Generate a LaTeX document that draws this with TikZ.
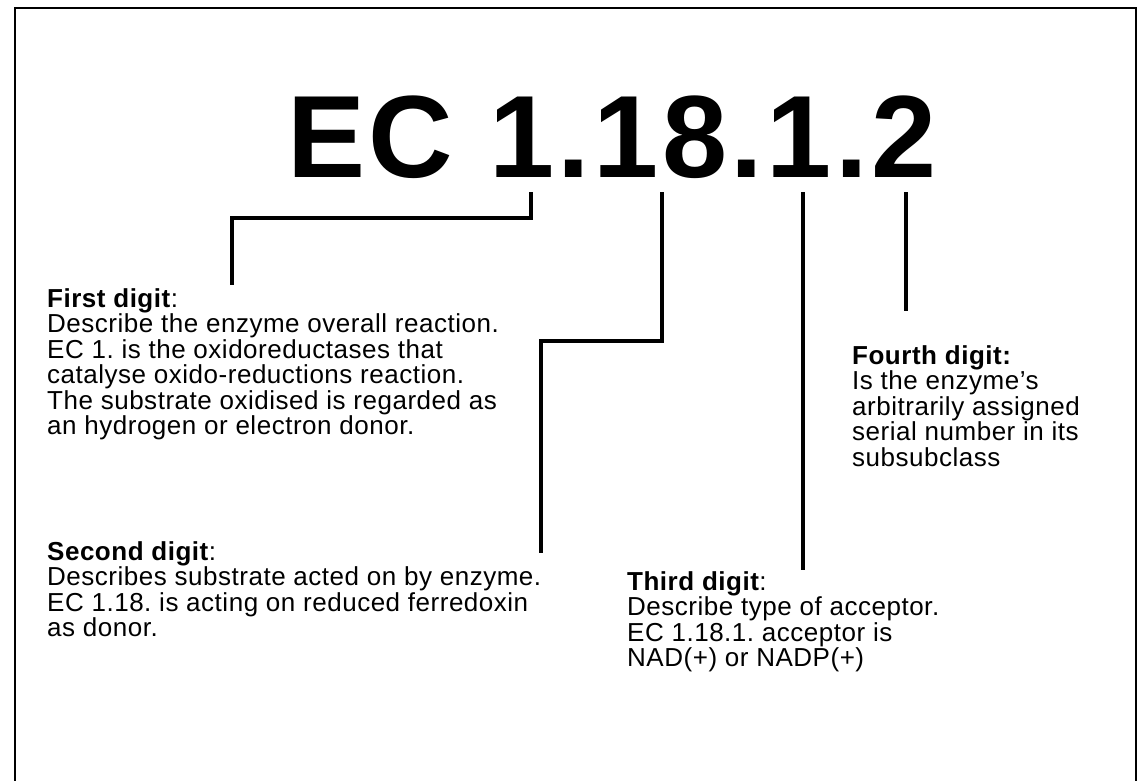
\documentclass[tikz,border=0pt]{standalone}
\usepackage{fontspec}
\setmainfont{Liberation Sans}
\newfontfamily\descfont[LetterSpace=2]{Liberation Sans}
\newfontfamily\titlefont[LetterSpace=3]{Liberation Sans}
\frenchspacing
\begin{document}
\begin{tikzpicture}[x=1pt,y=-1pt,
  conn/.style={line width=4pt},
  frame/.style={line width=2pt},
  desc/.style={anchor=north west,inner sep=0pt,align=left,font=\descfont\fontsize{26}{25.5}\selectfont},
  title/.style={anchor=base west,inner sep=0pt,font=\titlefont\bfseries\fontsize{117}{117}\selectfont}]
\useasboundingbox (0,0) rectangle (1146,781);
\draw[frame] (15,781) -- (15,8) -- (1136,8) -- (1136,781);
\node[title] (ec) at (287,178) {EC 1.18.1.2};
\coordinate (a1) at (531,192);
\coordinate (a2) at (662,192);
\coordinate (a3) at (803,192);
\coordinate (a4) at (906,192);
\node[desc] (d1) at (47,288) {\textbf{First digit}:\\Describe the enzyme overall reaction.\\EC 1. is the oxidoreductases that\\catalyse oxido-reductions reaction.\\The substrate oxidised is regarded as\\an hydrogen or electron donor.};
\node[desc] (d2) at (47,541) {\textbf{Second digit}:\\Describes substrate acted on by enzyme.\\EC 1.18. is acting on reduced ferredoxin\\as donor.};
\node[desc] (d3) at (627,571) {\textbf{Third digit}:\\Describe type of acceptor.\\EC 1.18.1. acceptor is\\NAD(+) or NADP(+)};
\node[desc] (d4) at (852,345) {\textbf{Fourth digit:}\\Is the enzyme’s\\arbitrarily assigned\\serial number in its\\subsubclass};
\coordinate (b1) at (232,285);
\coordinate (b2) at (541,553);
\coordinate (b3) at (803,570);
\coordinate (b4) at (906,311);
\draw[conn] (a1) -- (531,218) -| (b1);
\draw[conn] (a2) -- (662,341) -| (b2);
\draw[conn] (a3) -- (b3);
\draw[conn] (a4) -- (b4);
\end{tikzpicture}
\end{document}
